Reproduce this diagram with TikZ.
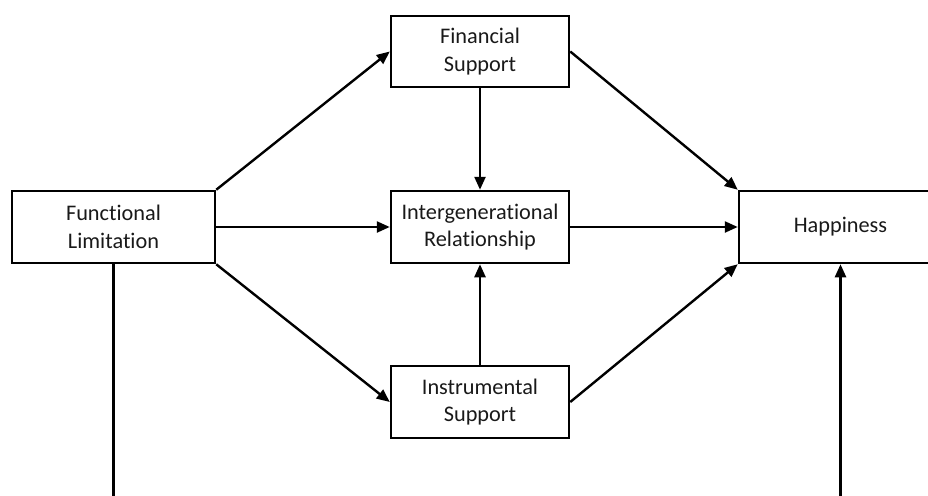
\documentclass[tikz,border=0pt]{standalone}
\usepackage{fontspec}
\setmainfont[Ligatures=NoCommon]{Carlito}
\usetikzlibrary{arrows.meta}
\tikzset{
  box/.style={draw=black, line width=2.5pt, rectangle, align=center, text=black!90,
    font=\fontsize{22.3}{27.5}\selectfont, inner sep=0pt},
  conn/.style={line width=2.4pt, draw=black},
  arr/.style={conn, -{Triangle[length=13pt,width=11pt]}},
}
\begin{document}
\begin{tikzpicture}[x=1pt,y=-1pt]
\useasboundingbox (0,0) rectangle (928,495);
\clip (0,0) rectangle (928,495);
\node[box, minimum width=203pt, minimum height=72pt] (fl) at (113.5,227) {Functional\\Limitation};
\node[box, minimum width=178pt, minimum height=71pt] (fs) at (480,51.5) {Financial\\Support};
\node[box, minimum width=178pt, minimum height=72pt] (ir) at (480,227) {Intergenerational\\Relationship};
\node[box, minimum width=178pt, minimum height=72pt] (is) at (480,402) {Instrumental\\Support};
\node[box, minimum width=203pt, minimum height=72pt] (h) at (840.5,227) {\raisebox{-2pt}{Happiness}};
\coordinate (flb) at (fl.south |- 0,500);
\coordinate (hb) at (h.south |- 0,500);
\draw[arr] (fl.north east) -- (fs.west);
\draw[arr] (fl.east) -- (ir.west);
\draw[arr] (fl.south east) -- (is.west);
\draw[arr] (fs.south) -- (ir.north);
\draw[arr] (is.north) -- (ir.south);
\draw[arr] (fs.east) -- (h.north west);
\draw[arr] (ir.east) -- (h.west);
\draw[arr] (is.east) -- (h.south west);
\draw[conn] (fl.south) -- (flb);
\draw[arr] (hb) -- (h.south);
\end{tikzpicture}
\end{document}
